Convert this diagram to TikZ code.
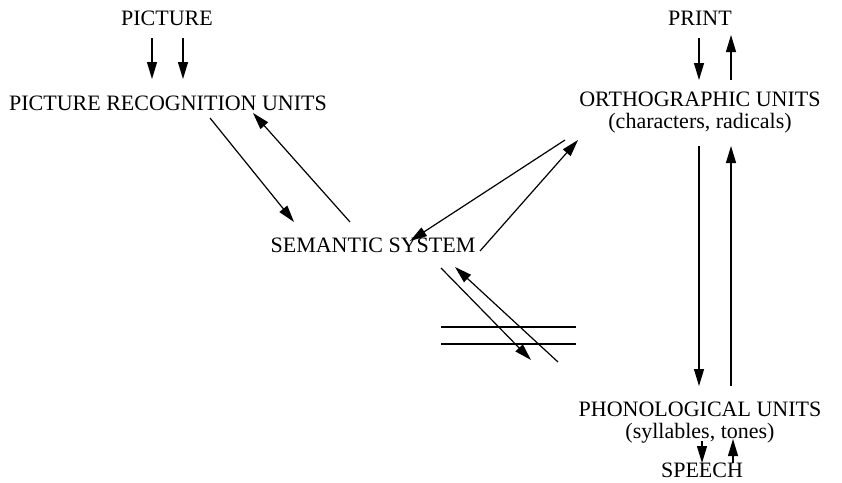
\documentclass[tikz,border=0pt]{standalone}
\usepackage{fontspec}
\setmainfont{Liberation Serif}
\usetikzlibrary{arrows.meta}
\begin{document}
\begin{tikzpicture}[x=1pt,y=-1pt,
  lbl/.style={font=\fontsize{22}{22}\selectfont, inner sep=0pt, align=center},
  arr/.style={-{Triangle[length=17pt,width=10pt]}, line width=1.2pt},
  ln/.style={line width=1.2pt}]
\useasboundingbox (0,0) rectangle (842,482);
% labels
\node[lbl] (pic) at (167,18) {PICTURE};
\node[lbl] (pru) at (168,103) {PICTURE RECOGNITION UNITS};
\node[lbl] (print) at (700,18) {PRINT};
\node[lbl] (orth) at (700,113) {ORTHOGRAPHIC UNITS\\(characters, radicals)};
\node[lbl] (sem) at (373,245) {SEMANTIC SYSTEM};
\node[lbl] (phon) at (700,423) {PHONOLOGICAL UNITS\\(syllables, tones)};
\node[lbl] (speech) at (702,470) {SPEECH};
% endpoints
\coordinate (pa1) at (152,38); \coordinate (pb1) at (152,79);
\coordinate (pa2) at (183,38); \coordinate (pb2) at (183,79);
\coordinate (ra1) at (699,38); \coordinate (rb1) at (699,80);
\coordinate (ra2) at (731,35); \coordinate (rb2) at (731,80);
\coordinate (ps1) at (210,118); \coordinate (se1) at (294,222);
\coordinate (se2) at (350,222); \coordinate (ps2) at (253,113);
\coordinate (os1) at (565,140); \coordinate (so1) at (410,241);
\coordinate (so2) at (480,251); \coordinate (os2) at (578,140);
\coordinate (op1) at (699,146); \coordinate (po1) at (699,386);
\coordinate (po2) at (731,386); \coordinate (op2) at (731,146);
\coordinate (sp1) at (441,268); \coordinate (ph1) at (531,360);
\coordinate (ph2) at (558,362); \coordinate (sp2) at (455,267);
\coordinate (h1a) at (441,327); \coordinate (h1b) at (576,327);
\coordinate (h2a) at (441,344); \coordinate (h2b) at (576,344);
\coordinate (sa1) at (702,441); \coordinate (sb1) at (702,463);
\coordinate (sa2) at (733,463); \coordinate (sb2) at (733,439);
% arrows
\draw[arr] (pa1) -- (pb1);
\draw[arr] (pa2) -- (pb2);
\draw[arr] (ra1) -- (rb1);
\draw[arr] (rb2) -- (ra2);
\draw[arr] (ps1) -- (se1);
\draw[arr] (se2) -- (ps2);
\draw[arr] (os1) -- (so1);
\draw[arr] (so2) -- (os2);
\draw[arr] (op1) -- (po1);
\draw[arr] (po2) -- (op2);
\draw[arr] (sp1) -- (ph1);
\draw[arr] (ph2) -- (sp2);
\draw[ln] (h1a) -- (h1b);
\draw[ln] (h2a) -- (h2b);
\draw[arr] (sa1) -- (sb1);
\draw[arr] (sa2) -- (sb2);
\end{tikzpicture}
\end{document}
